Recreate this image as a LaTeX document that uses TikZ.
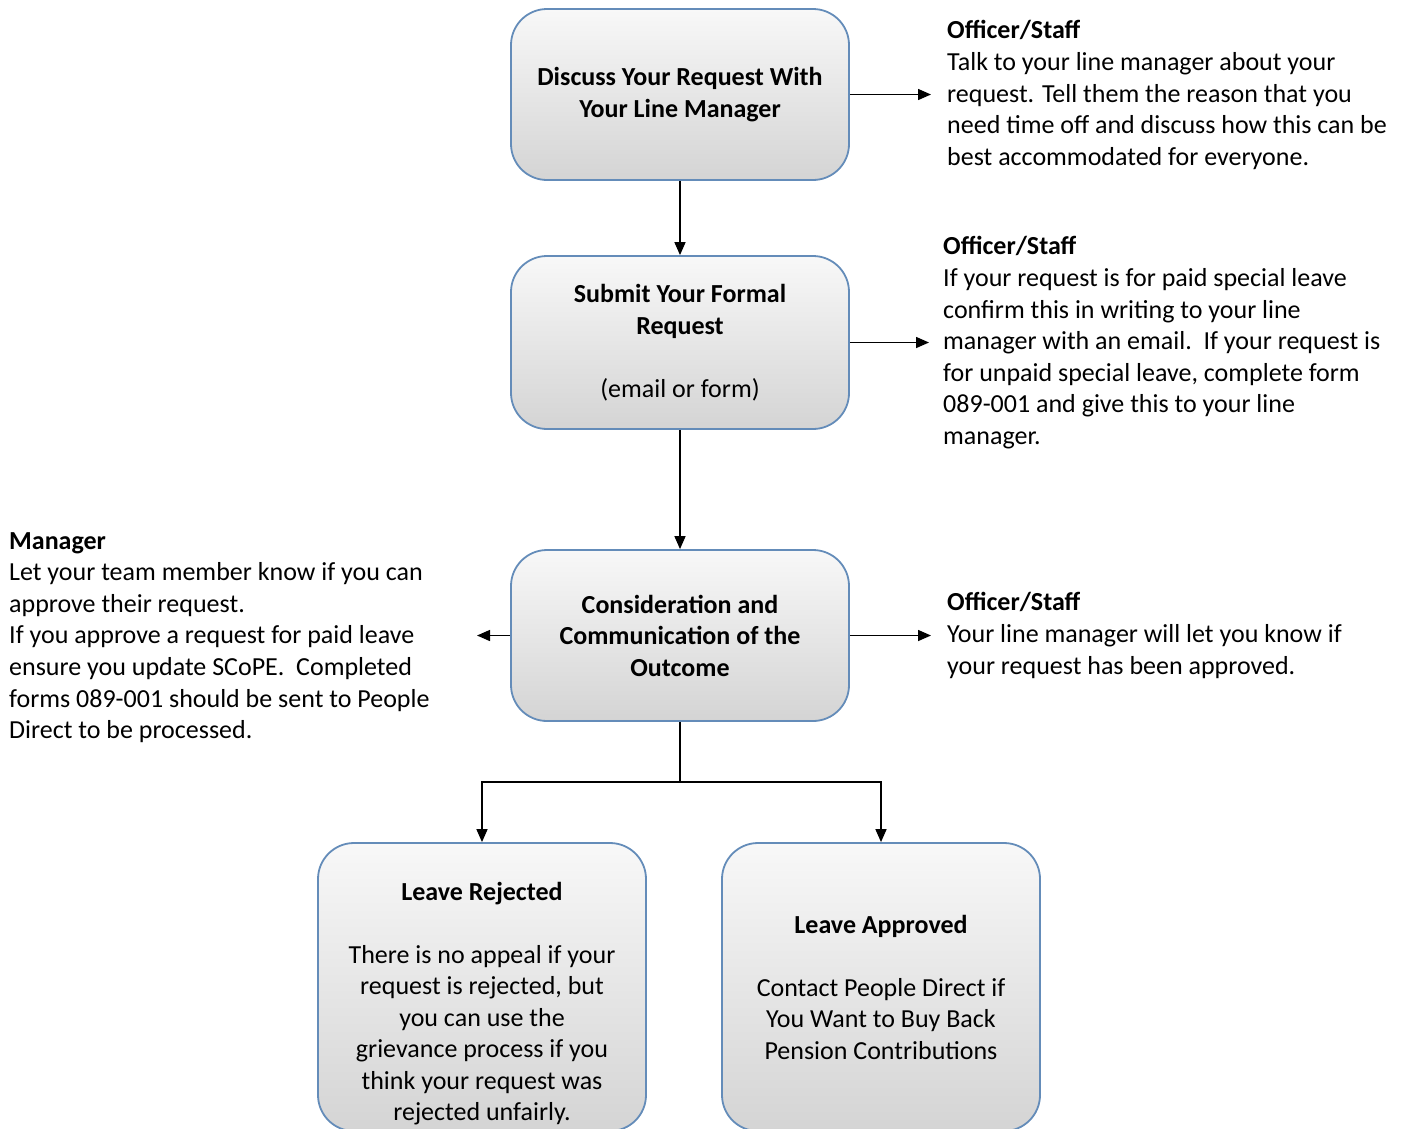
\documentclass[tikz,border=0pt]{standalone}
\usepackage{fontspec}
\setmainfont{Carlito}
\usetikzlibrary{arrows.meta}
\definecolor{boxtop}{RGB}{248,248,248}
\definecolor{boxbot}{RGB}{212,212,212}
\definecolor{boxline}{RGB}{100,140,185}
\begin{document}
\begin{tikzpicture}[x=1pt,y=-1pt,
  box/.style={draw=boxline, line width=1.8pt, rounded corners=36pt, top color=boxtop, bottom color=boxbot, inner sep=0pt},
  txt/.style={font=\fontsize{26}{31.6}\selectfont, align=left, anchor=north west, inner sep=0pt, execute at begin node=\strut},
  btxt/.style={font=\fontsize{26}{31.5}\selectfont, align=center, inner sep=0pt},
  arr/.style={-{Triangle[length=13pt,width=11pt]}, line width=1.5pt}]
\useasboundingbox (0,0) rectangle (1407,1128);
\clip (0,0) rectangle (1407,1128);

% boxes
\node[box, minimum width=338pt, minimum height=171pt] (disc) at (680,94.5) {};
\node[box, minimum width=338pt, minimum height=173pt] (sub) at (680,342.5) {};
\node[box, minimum width=338pt, minimum height=171pt] (cons) at (680,635.5) {};
\node[box, minimum width=328pt, minimum height=288pt] (rej) at (482,987) {};
\node[box, minimum width=318pt, minimum height=288pt] (app) at (881,987) {};

% box texts
\node[btxt] (disct) at (disc.center) {\textbf{Discuss Your Request With}\\\textbf{Your Line Manager}};
\node[btxt] (subt) at (sub.center) {\textbf{Submit Your Formal}\\\textbf{Request}\\[31.5pt](email or form)};
\node[btxt] (const) at (cons.center) {\textbf{Consideration and}\\\textbf{Communication of the}\\\textbf{Outcome}};
\node[btxt] (rejt) at (482,1003.5) {\textbf{Leave Rejected}\\[31.5pt]There is no appeal if your\\request is rejected, but\\you can use the\\grievance process if you\\think your request was\\rejected unfairly.};
\node[btxt] (appt) at (881,987) {\textbf{Leave Approved}\\[31.5pt]Contact People Direct if\\You Want to Buy Back\\Pension Contributions};

% side texts
\node[txt] (r1) at (947,20.5) {\textbf{Officer/Staff}\\Talk to your line manager about your\\request. Tell them the reason that you\\need time off and discuss how this can be\\best accommodated for everyone.};
\node[txt] (r2) at (943,236.5) {\textbf{Officer/Staff}\\If your request is for paid special leave\\confirm this in writing to your line\\manager with an email.\ \ If your request is\\for unpaid special leave, complete form\\089-001 and give this to your line\\manager.};
\node[txt] (r3) at (947,592.5) {\textbf{Officer/Staff}\\Your line manager will let you know if\\your request has been approved.};
\node[txt] (l1) at (9,532) {\textbf{Manager}\\Let your team member know if you can\\approve their request.\\If you approve a request for paid leave\\ensure you update SCoPE.\ \ Completed\\forms 089-001 should be sent to People\\Direct to be processed.};

% arrow ends
\coordinate (e1) at (931,94.5);
\coordinate (e2) at (929,342.5);
\coordinate (e3) at (931,635.5);
\coordinate (e4) at (477,635.5);
\coordinate (split) at (680,782);

% connectors
\draw[arr] (disc.south) -- (sub.north);
\draw[arr] (sub.south) -- (cons.north);
\draw[line width=1.5pt] (cons.south) -- (split);
\draw[arr] (split) -| (rej.north);
\draw[arr] (split) -| (app.north);
\draw[arr] (disc.east) -- (e1);
\draw[arr] (sub.east) -- (e2);
\draw[arr] (cons.east) -- (e3);
\draw[arr] (cons.west) -- (e4);
\end{tikzpicture}
\end{document}
